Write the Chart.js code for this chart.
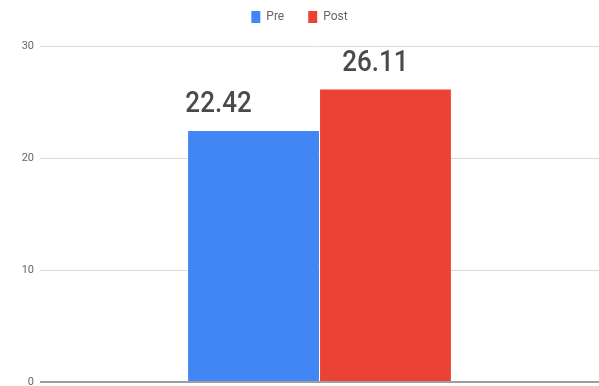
<!DOCTYPE html>
<html>
<head>
<meta charset="utf-8">
<script src="https://cdn.jsdelivr.net/npm/chart.js@4"></script>
<style>
  html, body { margin: 0; padding: 0; background: #fff; }
  #wrap { width: 599px; height: 386px; }
</style>
</head>
<body>
<div id="wrap"><canvas id="chart"></canvas></div>
<script>
const categories = [''];
const seriesNames = ['Pre', 'Post'];
const preValues = [22.42];
const postValues = [26.11];
const yTicks = [0, 10, 20, 30];
const colors = ['#4285f4', '#ea4335'];

// value text above each bar (the source image has it nudged left and squashed)
const labelShift = [-35, -10];
const valueLabels = {
  id: 'valueLabels',
  afterDatasetsDraw(chart) {
    const ctx = chart.ctx;
    chart.data.datasets.forEach((ds, i) => {
      chart.getDatasetMeta(i).data.forEach((bar, j) => {
        ctx.save();
        ctx.font = '500 26px Roboto';
        ctx.fillStyle = '#4a4a4a';
        ctx.textAlign = 'center';
        ctx.textBaseline = 'alphabetic';
        ctx.translate(bar.x + labelShift[i], bar.y - 19);
        ctx.scale(1, 1.17);
        ctx.fillText(ds.data[j].toFixed(2), 0, 0);
        ctx.restore();
      });
    });
  }
};

// tweak the space taken by the legend
const legendSpacer = {
  id: 'legendSpacer',
  beforeInit(chart) {
    const fit = chart.legend.fit;
    chart.legend.fit = function () {
      fit.call(this);
      this.height += 13;
    };
  }
};

new Chart(document.getElementById('chart'), {
  type: 'bar',
  data: {
    labels: categories,
    datasets: [
      { label: seriesNames[0], data: preValues, backgroundColor: colors[0] },
      { label: seriesNames[1], data: postValues, backgroundColor: colors[1] }
    ]
  },
  options: {
    responsive: true,
    maintainAspectRatio: false,
    animation: false,
    layout: { padding: { top: -13, right: 0, bottom: 4, left: 0 } },
    datasets: { bar: { categoryPercentage: 0.472, barPercentage: 0.992 } },
    plugins: {
      legend: {
        position: 'top',
        labels: {
          color: '#666',
          font: { family: 'Roboto', size: 12 },
          boxWidth: 9,
          boxHeight: 12,
          padding: 24
        }
      },
      tooltip: { enabled: false }
    },
    scales: {
      x: { display: false },
      y: {
        min: 0,
        max: 30,
        afterBuildTicks(axis) { axis.ticks = yTicks.map(v => ({ value: v })); },
        afterFit(axis) {
          axis.width = 40;
          axis.paddingTop = 0;
          axis.paddingBottom = 0;
        },
        border: { display: false },
        grid: {
          color: c => c.tick.value === 0 ? '#9e9e9e' : '#dcdcdc',
          lineWidth: c => c.tick.value === 0 ? 2 : 1,
          drawTicks: false
        },
        ticks: {
          color: '#666',
          font: { family: 'Roboto', size: 11 },
          padding: 6
        }
      }
    }
  },
  plugins: [legendSpacer, valueLabels]
});
</script>
</body>
</html>
